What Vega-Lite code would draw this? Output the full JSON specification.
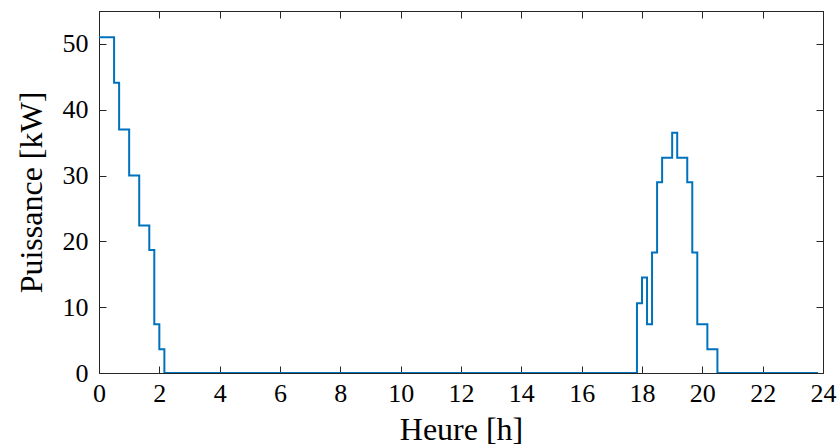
{
  "$schema": "https://vega.github.io/schema/vega-lite/v6.json",
  "width": 724,
  "height": 362,
  "autosize": {"type": "none"},
  "padding": {"left": 99, "top": 11, "right": 17, "bottom": 75},
  "background": "white",
  "config": {
    "view": {"stroke": "#262626", "strokeWidth": 1},
    "axis": {
      "labelFont": "Liberation Serif",
      "titleFont": "Liberation Serif",
      "labelFontSize": 26,
      "titleFontSize": 32,
      "titleFontWeight": "normal",
      "labelColor": "#000000",
      "titleColor": "#000000",
      "domainColor": "#262626",
      "tickColor": "#262626",
      "tickSize": -7,
      "labelFlush": false,
      "labelOverlap": false,
      "grid": false
    }
  },
  "data": {
    "values": [
      {"h": 0, "p": 51},
      {"h": 0.5, "p": 44.1},
      {"h": 0.667, "p": 37},
      {"h": 1.0, "p": 30},
      {"h": 1.333, "p": 22.4},
      {"h": 1.667, "p": 18.7},
      {"h": 1.833, "p": 7.4},
      {"h": 2.0, "p": 3.6},
      {"h": 2.167, "p": 0},
      {"h": 17.833, "p": 10.6},
      {"h": 18.0, "p": 14.5},
      {"h": 18.167, "p": 7.4},
      {"h": 18.333, "p": 18.3},
      {"h": 18.5, "p": 29.0},
      {"h": 18.667, "p": 32.7},
      {"h": 19.0, "p": 36.5},
      {"h": 19.167, "p": 32.7},
      {"h": 19.5, "p": 29.0},
      {"h": 19.667, "p": 18.3},
      {"h": 19.833, "p": 7.4},
      {"h": 20.167, "p": 3.6},
      {"h": 20.5, "p": 0},
      {"h": 23.833, "p": 0}
    ]
  },
  "layer": [
    {
      "mark": {"type": "line", "interpolate": "step-after", "color": "#0072BD", "strokeWidth": 2, "clip": true},
      "encoding": {
        "x": {"field": "h", "type": "quantitative", "scale": {"domain": [0, 24], "nice": false},
          "axis": {"orient": "bottom", "values": [0,2,4,6,8,10,12,14,16,18,20,22,24], "title": "Heure [h]", "labelPadding": 14, "titlePadding": 8}},
        "y": {"field": "p", "type": "quantitative", "scale": {"domain": [0, 55], "nice": false},
          "axis": {"orient": "left", "values": [0,10,20,30,40,50], "title": "Puissance [kW]", "labelPadding": 18, "titlePadding": 14}}
      }
    },
    {
      "mark": {"type": "point", "opacity": 0},
      "encoding": {
        "x": {"field": "h", "type": "quantitative",
          "axis": {"orient": "top", "values": [0,2,4,6,8,10,12,14,16,18,20,22,24], "labels": false, "title": null}},
        "y": {"field": "p", "type": "quantitative",
          "axis": {"orient": "right", "values": [0,10,20,30,40,50], "labels": false, "title": null}}
      }
    }
  ],
  "resolve": {"axis": {"x": "independent", "y": "independent"}}
}
